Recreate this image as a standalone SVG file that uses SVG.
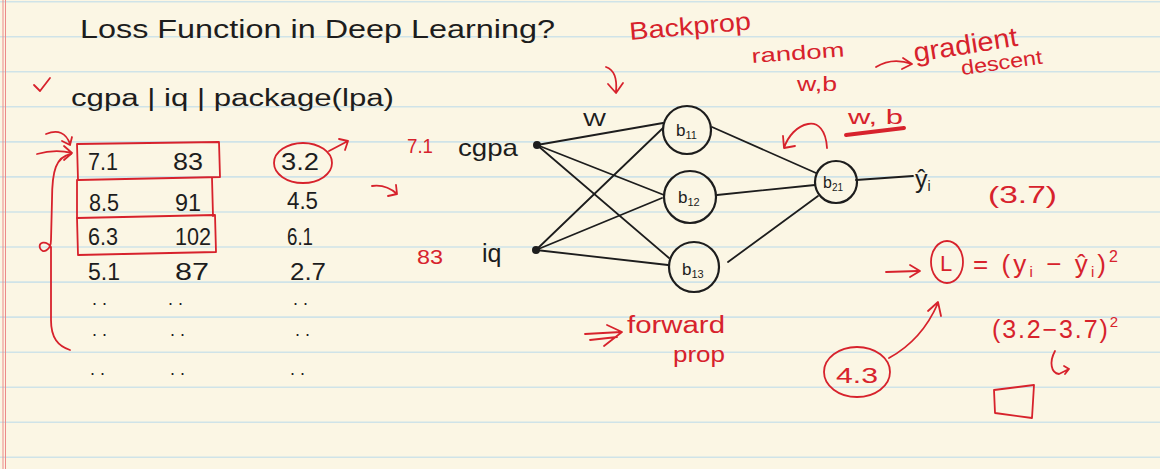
<svg xmlns="http://www.w3.org/2000/svg" width="1160" height="469" viewBox="0 0 1160 469">
<defs>
<style>
.ink{fill:#1d1d1d;font-family:"Liberation Sans","DejaVu Sans",sans-serif}
.red{fill:#d7222c;font-family:"Liberation Sans","DejaVu Sans",sans-serif}
.ln{stroke:#1d1d1d;stroke-width:1.8;fill:none;stroke-linecap:round}
.rl{stroke:#d7222c;stroke-width:1.8;fill:none;stroke-linecap:round;stroke-linejoin:round}
.node{fill:none;stroke:#1d1d1d;stroke-width:2.2}
.rule{stroke:#cfe3e8;stroke-width:1.6}
</style>
</defs>
<rect width="1160" height="469" fill="#fbf6e4"/>
<g id="ruling">
<line class="rule" x1="0" y1="1.7" x2="1160" y2="1.7"/>
<line class="rule" x1="0" y1="36.7" x2="1160" y2="36.7"/>
<line class="rule" x1="0" y1="71.8" x2="1160" y2="71.8"/>
<line class="rule" x1="0" y1="106.8" x2="1160" y2="106.8"/>
<line class="rule" x1="0" y1="141.9" x2="1160" y2="141.9"/>
<line class="rule" x1="0" y1="176.9" x2="1160" y2="176.9"/>
<line class="rule" x1="0" y1="212" x2="1160" y2="212"/>
<line class="rule" x1="0" y1="247" x2="1160" y2="247"/>
<line class="rule" x1="0" y1="282.1" x2="1160" y2="282.1"/>
<line class="rule" x1="0" y1="317.1" x2="1160" y2="317.1"/>
<line class="rule" x1="0" y1="352.2" x2="1160" y2="352.2"/>
<line class="rule" x1="0" y1="387.2" x2="1160" y2="387.2"/>
<line class="rule" x1="0" y1="422.3" x2="1160" y2="422.3"/>
<line class="rule" x1="0" y1="457.3" x2="1160" y2="457.3"/>
<line x1="3" y1="0" x2="3" y2="469" stroke="#ec8a8a" stroke-width="1"/>
<line x1="5.5" y1="0" x2="5.5" y2="469" stroke="#ec8a8a" stroke-width="1"/>
</g>

<g id="title">
<text class="ink" x="80" y="38" font-size="26" textLength="475" lengthAdjust="spacingAndGlyphs">Loss Function in Deep Learning?</text>
</g>

<g id="header">
<path class="rl" d="M34,85 L40,91 L50,78"/>
<text class="ink" x="71" y="106" font-size="23" textLength="323" lengthAdjust="spacingAndGlyphs">cgpa | iq | package(lpa)</text>
</g>

<g id="table">
<path class="rl" d="M77,144 L219,142 L220,177 L78,180 Z"/>
<path class="rl" d="M77,180 L77,218 M212,178 L213,216"/>
<path class="rl" d="M77,218 L215,215 L216,252 L78,255 Z"/>
<text class="ink" x="88" y="170" font-size="24" textLength="30" lengthAdjust="spacingAndGlyphs">7.1</text>
<text class="ink" x="173" y="170" font-size="24" textLength="30" lengthAdjust="spacingAndGlyphs">83</text>
<text class="ink" x="281" y="170" font-size="24" textLength="38" lengthAdjust="spacingAndGlyphs">3.2</text>
<text class="ink" x="89" y="211" font-size="24" textLength="30" lengthAdjust="spacingAndGlyphs">8.5</text>
<text class="ink" x="175" y="211" font-size="24" textLength="26" lengthAdjust="spacingAndGlyphs">91</text>
<text class="ink" x="287" y="209" font-size="24" textLength="31" lengthAdjust="spacingAndGlyphs">4.5</text>
<text class="ink" x="88" y="245" font-size="24" textLength="30" lengthAdjust="spacingAndGlyphs">6.3</text>
<text class="ink" x="175" y="245" font-size="24" textLength="36" lengthAdjust="spacingAndGlyphs">102</text>
<text class="ink" x="287" y="245" font-size="24" textLength="26" lengthAdjust="spacingAndGlyphs">6.1</text>
<text class="ink" x="88" y="280" font-size="24" textLength="32" lengthAdjust="spacingAndGlyphs">5.1</text>
<text class="ink" x="175" y="280" font-size="24" textLength="34" lengthAdjust="spacingAndGlyphs">87</text>
<text class="ink" x="290" y="280" font-size="24" textLength="36" lengthAdjust="spacingAndGlyphs">2.7</text>
<text class="ink" x="92" y="305" font-size="18">. .</text>
<text class="ink" x="168" y="305" font-size="18">. .</text>
<text class="ink" x="293" y="305" font-size="18">. .</text>
<text class="ink" x="92" y="336" font-size="18">. .</text>
<text class="ink" x="170" y="336" font-size="18">. .</text>
<text class="ink" x="295" y="336" font-size="18">. .</text>
<text class="ink" x="90" y="375" font-size="18">. .</text>
<text class="ink" x="170" y="375" font-size="18">. .</text>
<text class="ink" x="290" y="375" font-size="18">. .</text>
<ellipse cx="303" cy="163" rx="29" ry="20" class="rl"/>
<path class="rl" d="M329,151 L348,141 M339,139 L348,141 L345,150"/>
<path class="rl" d="M46,134 Q64,127 70,144 M62,141 L70,145 L72,137"/>
<path class="rl" d="M37,154 Q55,149 72,153 M64,146 L72,153 L64,160"/>
<path class="rl" d="M71,154 C56,157 52,170 52,200 L51,240 C51,251 42,254 40,248 C38,242 46,240 51,247 L51,320 C51,338 58,346 70,350"/>
<path class="rl" d="M372,186 Q386,184 397,194 M388,196 L397,194 L396,185"/>
</g>

<g id="connectors">
<path class="ln" d="M537,145 L663,123"/>
<path class="ln" d="M537,145 L664,195"/>
<path class="ln" d="M537,145 L669,258"/>
<path class="ln" d="M536,250 L663,128"/>
<path class="ln" d="M536,250 L662,198"/>
<path class="ln" d="M536,250 L668,265"/>
<path class="ln" d="M712,127 L816,173"/>
<path class="ln" d="M717,195 L815,185"/>
<path class="ln" d="M728,262 L818,196"/>
<path class="ln" d="M856,180 L913,176"/>
</g>

<g id="node-cgpa">
<circle cx="537" cy="145" r="4" fill="#1d1d1d"/>
<text class="red" x="407" y="153" font-size="20" textLength="26" lengthAdjust="spacingAndGlyphs">7.1</text>
<text class="ink" x="458" y="156" font-size="24" textLength="60" lengthAdjust="spacingAndGlyphs">cgpa</text>
</g>
<g id="node-iq">
<circle cx="536" cy="250" r="4" fill="#1d1d1d"/>
<text class="red" x="417" y="264" font-size="20" textLength="26" lengthAdjust="spacingAndGlyphs">83</text>
<text class="ink" x="482" y="262" font-size="25">iq</text>
</g>
<g id="label-w">
<text class="ink" x="583" y="126" font-size="18" textLength="23" lengthAdjust="spacingAndGlyphs">W</text>
</g>
<g id="node-b11">
<circle class="node" cx="687" cy="130" r="24"/>
<text class="ink" x="676" y="136" font-size="17">b<tspan font-size="11" dy="3">11</tspan></text>
</g>
<g id="node-b12">
<circle class="node" cx="690" cy="197" r="26"/>
<text class="ink" x="678" y="203" font-size="17">b<tspan font-size="11" dy="3">12</tspan></text>
</g>
<g id="node-b13">
<circle class="node" cx="694" cy="267" r="25"/>
<text class="ink" x="682" y="275" font-size="17">b<tspan font-size="11" dy="3">13</tspan></text>
</g>
<g id="node-b21">
<circle class="node" cx="836" cy="182" r="21"/>
<text class="ink" x="823" y="188" font-size="16">b<tspan font-size="10" dy="3">21</tspan></text>
</g>
<g id="node-yhat">
<text class="ink" x="915" y="188" font-size="25">ŷ<tspan font-size="14" dy="3">i</tspan></text>
<text class="red" x="988" y="203" font-size="24" textLength="69" lengthAdjust="spacingAndGlyphs">(3.7)</text>
</g>

<g id="backprop">
<text class="red" x="630" y="40" font-size="25" textLength="122" lengthAdjust="spacingAndGlyphs" transform="rotate(-5 630 40)">Backprop</text>
<path class="rl" d="M606,67 Q618,71 616,92 M608,84 L616,93 L623,83"/>
<path class="rl" d="M827,148 C826,130 818,122 808,124 C797,126 788,136 784,148 M783,136 L784,148 L795,146"/>
<text class="red" x="752" y="63" font-size="20" textLength="93" lengthAdjust="spacingAndGlyphs" transform="rotate(-4 752 63)">random</text>
<text class="red" x="797" y="91" font-size="20" textLength="40" lengthAdjust="spacingAndGlyphs">w,b</text>
<path class="rl" d="M876,67 Q892,57 912,64 M903,58 L912,64 L902,69"/>
<text class="red" x="915" y="62" font-size="27" textLength="105" lengthAdjust="spacingAndGlyphs" transform="rotate(-9 915 62)">gradient</text>
<text class="red" x="962" y="75" font-size="20" textLength="82" lengthAdjust="spacingAndGlyphs" transform="rotate(-8 962 75)">descent</text>
<text class="red" x="848" y="124" font-size="21" textLength="55" lengthAdjust="spacingAndGlyphs">w, b</text>
<path d="M846,135 L904,128" stroke="#d7222c" stroke-width="4" stroke-linecap="round"/>
</g>

<g id="forwardprop">
<path class="rl" d="M585,334 L621,332 M590,340 L617,337 M607,325 L622,332 L604,346"/>
<text class="red" x="627" y="333" font-size="23" textLength="98" lengthAdjust="spacingAndGlyphs">forward</text>
<text class="red" x="673" y="362" font-size="22" textLength="52" lengthAdjust="spacingAndGlyphs">prop</text>
</g>

<g id="loss">
<path class="rl" d="M886,272 L918,271" stroke-width="3"/>
<path class="rl" d="M910,265 L920,271 L910,277" stroke-width="2.5"/>
<ellipse class="rl" cx="947" cy="262" rx="16" ry="21"/>
<text class="red" x="940" y="271" font-size="22">L</text>
<text class="red" x="973" y="273" font-size="26" textLength="145" lengthAdjust="spacing">= (y<tspan font-size="15" dy="4">i</tspan><tspan dy="-4"> − ŷ</tspan><tspan font-size="15" dy="4">i</tspan><tspan dy="-4">)</tspan><tspan font-size="16" dy="-11">2</tspan></text>
<text class="red" x="992" y="338" font-size="25" textLength="126" lengthAdjust="spacing">(3.2−3.7)<tspan font-size="15" dy="-11">2</tspan></text>
<path class="rl" d="M1055,351 C1049,362 1051,373 1059,374 L1069,369 M1064,366 L1069,369 L1065,374"/>
<path class="rl" d="M994,390 L1034,385 L1032,418 L995,413 Z"/>
</g>

<g id="node-43">
<ellipse class="rl" cx="857" cy="372" rx="33" ry="25"/>
<text class="red" x="836" y="383" font-size="22" textLength="42" lengthAdjust="spacingAndGlyphs">4.3</text>
<path class="rl" d="M889,358 Q922,340 938,303 M928,311 L938,302 L941,316"/>
</g>
</svg>
